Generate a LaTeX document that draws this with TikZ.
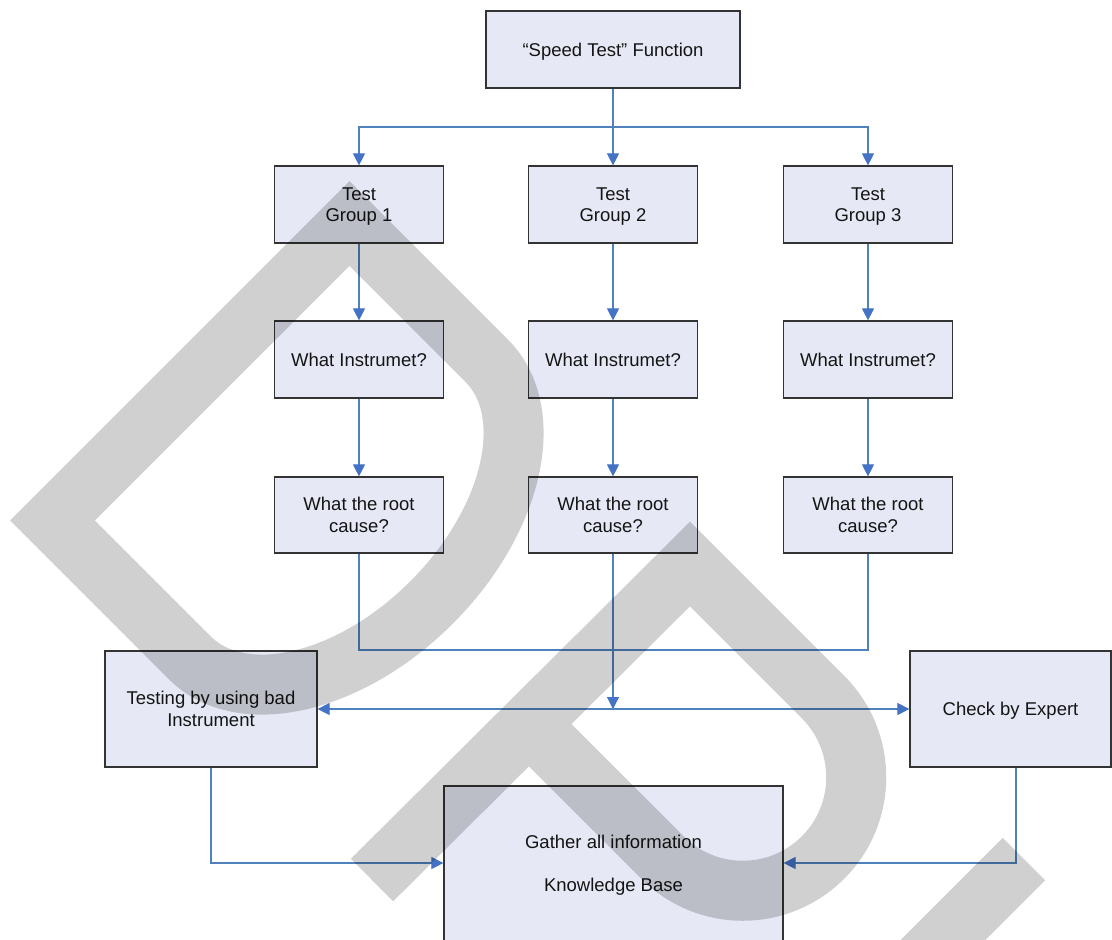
\documentclass[tikz,border=0pt]{standalone}
\usepackage{fontspec}
\setmainfont{Liberation Sans}
\usetikzlibrary{arrows.meta}
\definecolor{boxfill}{RGB}{230,233,245}
\definecolor{conn}{RGB}{79,129,189}
\definecolor{arrowc}{RGB}{68,114,196}
\definecolor{txt}{RGB}{20,20,20}
\tikzset{
  box/.style={draw=black!80, line width=1.2pt, fill=boxfill, text=txt,
    font=\fontsize{18.5}{21.5}\selectfont, align=center, inner sep=0pt, text depth=0pt},
  link/.style={draw=conn, line width=1.1pt},
  tip/.tip={Triangle[length=12pt,width=12pt,color=arrowc]},
  arr/.style={link, -tip},
  dbl/.style={link, tip-tip},
  wm/.style={draw=black, draw opacity=0.185, line width=60pt, line join=miter, line cap=butt}
}
\begin{document}
\begin{tikzpicture}[x=1pt,y=-1pt]
\useasboundingbox (0,0) rectangle (1112,940);
\clip (0,0) rectangle (1112,940);
% nodes
\node[box, minimum width=254pt, minimum height=77pt] (sp) at (613,49.5) {“Speed Test” Function};
\foreach \i/\x in {1/359,2/613,3/868}{
  \node[box, minimum width=169pt, minimum height=77pt] (tg\i) at (\x,204.5) {Test\\Group \i};
  \node[box, minimum width=169pt, minimum height=77pt] (wi\i) at (\x,359.5) {What Instrumet?};
  \node[box, minimum width=169pt, minimum height=76pt] (rc\i) at (\x,515) {What the root\\cause?};
}
\node[box, minimum width=212pt, minimum height=116pt] (tb) at (211,709) {Testing by using bad\\Instrument};
\node[box, minimum width=201pt, minimum height=116pt] (ex) at (1010.5,709) {Check by Expert};
\node[box, minimum width=339pt, minimum height=174pt] (kb) at (613.5,873) {};
\node[font=\fontsize{18.5}{21.5}\selectfont, text=txt, align=center, inner sep=0pt, text depth=0pt] (kbt) at (613.5,863.5) {Gather all information\\[21.5pt]Knowledge Base};
% connectors
\coordinate (bus) at (613,127);
\coordinate (col) at (613,650);
\coordinate (mid) at (613,709);
\coordinate (lc) at (211,863);
\coordinate (rcn) at (1016,863);
\draw[arr] (sp.south) -- (tg2.north);
\draw[arr] (bus) -| (tg1.north);
\draw[arr] (bus) -| (tg3.north);
\foreach \i in {1,2,3}{
  \draw[arr] (tg\i.south) -- (wi\i.north);
  \draw[arr] (wi\i.south) -- (rc\i.north);
}
\draw[link] (rc1.south) -- (rc1.south |- col) -- (rc3.south |- col) -- (rc3.south);
\draw[arr] (rc2.south) -- (mid);
\draw[dbl] (tb.east) -- (ex.west);
\draw[arr] (tb.south) -- (lc) -- (kb.west |- lc);
\draw[arr] (ex.south -| rcn) -- (rcn) -- (kb.east |- rcn);
% watermark
\begin{scope}[shift={(201,372)}, rotate=-45]
  \draw[wm] (0,-210) -- (0,210) -- (194,210) arc[start angle=90, end angle=-90, x radius=132, y radius=210] -- cycle;
\end{scope}
\draw[wm] (372,880) -- (690,564) -- (823,697) arc[start angle=-45, end angle=135, radius=113.5] -- (531,726);
\draw[wm] (1024,859) -- (904,979);
\end{tikzpicture}
\end{document}
